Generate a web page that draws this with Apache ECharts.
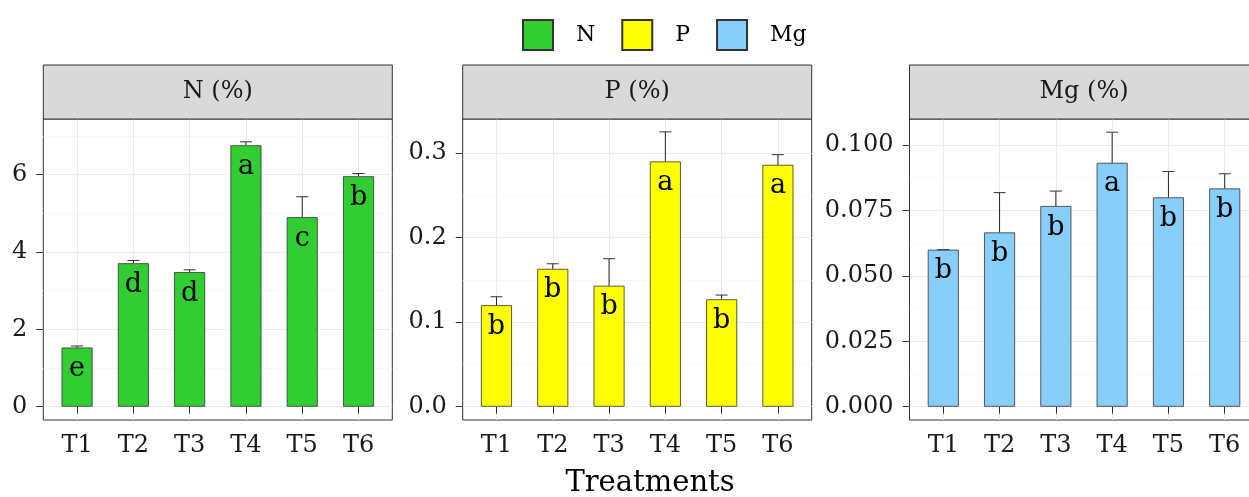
<!DOCTYPE html>
<html><head><meta charset="utf-8">
<script src="https://cdn.jsdelivr.net/npm/echarts@6/dist/echarts.min.js"></script>
<style>html,body{margin:0;padding:0;background:#fff}#c{width:1249px;height:497px}</style>
</head><body><div id="c"></div>
<script>
// ---- data ----
const categories = ['T1','T2','T3','T4','T5','T6'];
const nMean  = [1.53, 3.71, 3.48, 6.76, 4.90, 5.96];
const nSe    = [0.04, 0.07, 0.06, 0.09, 0.53, 0.07];
const nLetters = ['e','d','d','a','c','b'];
const pMean  = [0.120, 0.163, 0.143, 0.290, 0.127, 0.286];
const pSe    = [0.010, 0.006, 0.032, 0.035, 0.005, 0.012];
const pLetters = ['b','b','b','a','b','a'];
const mgMean = [0.0600, 0.0666, 0.0767, 0.0932, 0.0800, 0.0834];
const mgSe   = [0.0000, 0.0152, 0.0057, 0.0117, 0.0099, 0.0056];
const mgLetters = ['b','b','b','a','b','b'];
const nTicks  = [0, 2, 4, 6];
const nMinor  = [1, 3, 5, 7];
const pTicks  = [0, 0.1, 0.2, 0.3];
const pMinor  = [0.05, 0.15, 0.25];
const mgTicks = [0, 0.025, 0.05, 0.075, 0.1];
const mgMinor = [0.0125, 0.0375, 0.0625, 0.0875];
const stripLabels = ['N (%)', 'P (%)', 'Mg (%)'];
const seriesNames = ['N', 'P', 'Mg'];
const xTitle = 'Treatments';

// ---- layout / style ----
const FONT = 'DejaVu Serif';
const colors = ['#32CD32', '#FFFF00', '#87CEFA'];
const panels = [
  {name: seriesNames[0], mean: nMean, se: nSe, letters: nLetters, ticks: nTicks, minor: nMinor, dec: 0, min: -0.344, max: 7.44, left: 43.3},
  {name: seriesNames[1], mean: pMean, se: pSe, letters: pLetters, ticks: pTicks, minor: pMinor, dec: 1, min: -0.01573, max: 0.3402, left: 462.7},
  {name: seriesNames[2], mean: mgMean, se: mgSe, letters: mgLetters, ticks: mgTicks, minor: mgMinor, dec: 3, min: -0.00508, max: 0.10994, left: 909.5}
];
const PW = 349, PT = 119, PH = 301, ST = 65, SH = 54;
const xPos = categories.map((c, i) => i + 1);

const grid = [], xAxis = [], yAxis = [], series = [], graphic = [];
panels.forEach((p, i) => {
  grid.push({left: p.left, top: PT, width: PW, height: PH, show: true, backgroundColor: '#fff', borderColor: '#333', borderWidth: 1, containLabel: false, outerBoundsMode: 'none'});
  xAxis.push({
    gridIndex: i, type: 'value', min: 0.4, max: 6.6, position: 'bottom',
    axisLine: {show: false},
    axisTick: {show: true, length: 7, lineStyle: {color: '#333', width: 1}, customValues: xPos},
    axisLabel: {show: true, customValues: xPos, margin: 14, formatter: v => categories[Math.round(v) - 1], color: '#1a1a1a', fontFamily: FONT, fontSize: 24},
    splitLine: {show: true, lineStyle: {color: '#EBEBEB', width: 1}}
  });
  // minor y grid
  yAxis.push({
    gridIndex: i, type: 'value', min: p.min, max: p.max, position: 'left',
    axisLine: {show: false}, axisLabel: {show: false},
    axisTick: {show: false, customValues: p.minor},
    splitLine: {show: true, lineStyle: {color: '#F5F5F5', width: 0.8}}
  });
  // major y
  yAxis.push({
    gridIndex: i, type: 'value', min: p.min, max: p.max, position: 'left',
    axisLine: {show: false},
    axisTick: {show: true, length: 7, lineStyle: {color: '#333', width: 1}, customValues: p.ticks},
    axisLabel: {show: true, customValues: p.ticks, margin: 16, formatter: v => v.toFixed(p.dec), color: '#1a1a1a', fontFamily: FONT, fontSize: 24},
    splitLine: {show: true, lineStyle: {color: '#EBEBEB', width: 1}}
  });
  series.push({
    name: p.name, type: 'bar', xAxisIndex: i, yAxisIndex: 2 * i + 1,
    data: p.mean.map((v, k) => [xPos[k], v]),
    barWidth: 31,
    itemStyle: {color: colors[i], borderColor: '#333', borderWidth: 0.8},
    label: {show: true, position: 'insideTop', distance: 8, formatter: prm => p.letters[prm.dataIndex], color: '#000', fontFamily: FONT, fontSize: 27},
    emphasis: {disabled: true}, z: 3
  });
  series.push({
    name: p.name + ' SE', type: 'custom', xAxisIndex: i, yAxisIndex: 2 * i + 1,
    data: p.mean.map((v, k) => [xPos[k], v, v + p.se[k]]),
    renderItem: (params, api) => {
      const a = api.coord([api.value(0), api.value(1)]);
      const b = api.coord([api.value(0), api.value(2)]);
      return {type: 'group', children: [
        {type: 'line', shape: {x1: a[0], y1: a[1], x2: b[0], y2: b[1]}, style: {stroke: '#222', lineWidth: 1}},
        {type: 'line', shape: {x1: b[0] - 6, y1: b[1], x2: b[0] + 6, y2: b[1]}, style: {stroke: '#333', lineWidth: 1}}
      ]};
    },
    z: 4, silent: true
  });
  graphic.push({type: 'rect', shape: {x: p.left, y: ST, width: PW, height: SH}, style: {fill: '#D9D9D9', stroke: '#333', lineWidth: 1}, z: 10});
  graphic.push({type: 'text', x: p.left + PW / 2, y: ST + SH / 2, style: {text: stripLabels[i], fill: '#1a1a1a', font: '24px "' + FONT + '"', align: 'center', verticalAlign: 'middle'}, z: 11});
});
graphic.push({type: 'text', x: 650, y: 483, style: {text: xTitle, fill: '#000', font: '29px "' + FONT + '"', align: 'center', verticalAlign: 'middle'}, z: 11});

const chart = echarts.init(document.getElementById('c'), null, {renderer: 'canvas'});
chart.setOption({
  animation: false,
  backgroundColor: '#fff',
  legend: {
    data: seriesNames, icon: 'rect', itemWidth: 30, itemHeight: 30, itemGap: 26,
    left: 517, top: 14,
    textStyle: {fontFamily: FONT, fontSize: 22, color: '#000', padding: [0, 0, 0, 18]},
    selectedMode: false
  },
  grid, xAxis, yAxis, series, graphic
});
</script></body></html>
